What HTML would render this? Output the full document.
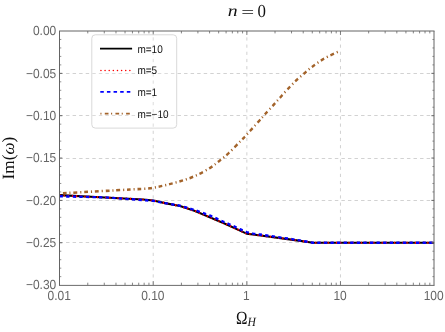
<!DOCTYPE html>
<html><head><meta charset="utf-8"><title>n = 0</title>
<style>html,body{margin:0;padding:0;background:#fff;}svg{display:block;will-change:transform;opacity:0.999;}text{font-family:"Liberation Sans",sans-serif;text-rendering:geometricPrecision;}.s{font-family:"Liberation Serif",serif;}</style></head><body>
<svg width="445" height="332" viewBox="0 0 445 332">
<rect x="0" y="0" width="445" height="332" fill="#ffffff"/>
<g stroke="#c6c6c6" stroke-width="0.8" fill="none">
<line x1="153.22" y1="284.70" x2="153.22" y2="31.00" stroke-dasharray="3.2 3.98"/>
<line x1="246.85" y1="284.70" x2="246.85" y2="31.00" stroke-dasharray="3.2 3.98"/>
<line x1="340.48" y1="284.70" x2="340.48" y2="31.00" stroke-dasharray="3.2 3.98"/>
<line x1="59.50" y1="73.50" x2="434.10" y2="73.50" stroke-dasharray="3.45 3.106"/>
<line x1="59.50" y1="115.50" x2="434.10" y2="115.50" stroke-dasharray="3.45 3.106"/>
<line x1="59.50" y1="158.50" x2="434.10" y2="158.50" stroke-dasharray="3.45 3.106"/>
<line x1="59.50" y1="200.50" x2="434.10" y2="200.50" stroke-dasharray="3.45 3.106"/>
<line x1="59.50" y1="242.50" x2="434.10" y2="242.50" stroke-dasharray="3.45 3.106"/>
</g>
<g transform="scale(1,1.1)">
<path d="M59.60,177.36 L105.00,179.50 L143.00,181.41 L153.30,182.27 L165.00,184.64 L180.00,187.36 L195.00,191.86 L225.00,203.36 L246.60,212.36 L255.00,213.41 L295.00,218.27 L313.00,220.64 L434.10,220.64" fill="none" stroke="#000000" stroke-width="1.9" stroke-linejoin="round"/>
<path d="M59.60,177.55 L105.00,179.50 L143.00,181.41 L153.30,182.27 L165.00,184.64 L180.00,187.36 L195.00,191.86 L225.00,203.36 L246.60,212.36 L255.00,213.41 L295.00,218.27 L313.00,220.64 L434.10,220.64" fill="none" stroke="#ff0000" stroke-width="1.9" stroke-dasharray="1.2 2.95" stroke-dashoffset="0.15"/>
<path d="M59.60,178.45 L105.00,179.45 L146.00,182.09 L153.30,182.64 L165.00,184.64 L179.00,186.82 L185.10,188.27 L191.50,190.09 L197.90,191.91 L204.10,194.00 L210.40,196.09 L216.40,198.55 L222.60,201.18 L228.40,203.45 L234.60,206.09 L240.60,208.55 L246.60,211.00 L253.30,212.36 L260.00,213.18 L291.90,217.36 L313.00,220.64 L434.10,220.64" fill="none" stroke="#0000ff" stroke-width="2.15" stroke-dasharray="3.3 3.28"/>
<path d="M59.60,175.82 C66.33,175.48 88.27,174.41 100.00,173.82 C111.73,173.23 121.67,172.71 130.00,172.27 C138.33,171.83 144.15,171.83 150.00,171.18 C155.85,170.53 160.08,169.42 165.10,168.36 C170.12,167.30 175.08,166.23 180.10,164.82 C185.12,163.41 190.18,161.95 195.20,159.91 C200.22,157.86 206.08,154.89 210.20,152.55 C214.32,150.20 216.78,148.08 219.90,145.82 C223.02,143.56 225.48,141.91 228.90,139.00 C232.32,136.09 237.48,131.08 240.40,128.36 C243.32,125.65 243.38,125.70 246.40,122.73 C249.42,119.76 255.45,113.64 258.50,110.55 C261.55,107.45 262.13,106.77 264.70,104.18 C267.27,101.59 271.22,97.70 273.90,95.00 C276.58,92.30 278.22,90.59 280.80,88.00 C283.38,85.41 286.72,82.03 289.40,79.45 C292.08,76.88 294.33,74.74 296.90,72.55 C299.47,70.35 302.13,68.33 304.80,66.27 C307.47,64.21 309.70,62.33 312.90,60.18 C316.10,58.03 319.75,55.58 324.00,53.36 C328.25,51.15 336.00,47.98 338.40,46.91" fill="none" stroke="#a3632a" stroke-width="2.3" stroke-dasharray="1.1 2.87 3.75 2.94" stroke-dashoffset="0.65"/>
</g>
<g stroke="#646464" stroke-width="1" fill="none">
<line x1="59.0" y1="31.0" x2="434.5" y2="31.0"/>
<line x1="59.0" y1="285.4" x2="434.5" y2="285.4" stroke-width="0.95"/>
<line x1="59.5" y1="31.0" x2="59.5" y2="285.4"/>
<line x1="434.0" y1="31.0" x2="434.0" y2="285.4"/>
</g>
<g stroke="#646464" stroke-width="0.8" fill="none">
<line x1="87.78" y1="285.10" x2="87.78" y2="282.70"/>
<line x1="87.78" y1="31.00" x2="87.78" y2="33.40"/>
<line x1="104.27" y1="285.10" x2="104.27" y2="282.70"/>
<line x1="104.27" y1="31.00" x2="104.27" y2="33.40"/>
<line x1="115.97" y1="285.10" x2="115.97" y2="282.70"/>
<line x1="115.97" y1="31.00" x2="115.97" y2="33.40"/>
<line x1="125.04" y1="285.10" x2="125.04" y2="282.70"/>
<line x1="125.04" y1="31.00" x2="125.04" y2="33.40"/>
<line x1="132.45" y1="285.10" x2="132.45" y2="282.70"/>
<line x1="132.45" y1="31.00" x2="132.45" y2="33.40"/>
<line x1="138.72" y1="285.10" x2="138.72" y2="282.70"/>
<line x1="138.72" y1="31.00" x2="138.72" y2="33.40"/>
<line x1="144.15" y1="285.10" x2="144.15" y2="282.70"/>
<line x1="144.15" y1="31.00" x2="144.15" y2="33.40"/>
<line x1="148.94" y1="285.10" x2="148.94" y2="282.70"/>
<line x1="148.94" y1="31.00" x2="148.94" y2="33.40"/>
<line x1="153.22" y1="285.10" x2="153.22" y2="281.10"/>
<line x1="153.22" y1="31.00" x2="153.22" y2="35.00"/>
<line x1="181.41" y1="285.10" x2="181.41" y2="282.70"/>
<line x1="181.41" y1="31.00" x2="181.41" y2="33.40"/>
<line x1="197.90" y1="285.10" x2="197.90" y2="282.70"/>
<line x1="197.90" y1="31.00" x2="197.90" y2="33.40"/>
<line x1="209.59" y1="285.10" x2="209.59" y2="282.70"/>
<line x1="209.59" y1="31.00" x2="209.59" y2="33.40"/>
<line x1="218.67" y1="285.10" x2="218.67" y2="282.70"/>
<line x1="218.67" y1="31.00" x2="218.67" y2="33.40"/>
<line x1="226.08" y1="285.10" x2="226.08" y2="282.70"/>
<line x1="226.08" y1="31.00" x2="226.08" y2="33.40"/>
<line x1="232.35" y1="285.10" x2="232.35" y2="282.70"/>
<line x1="232.35" y1="31.00" x2="232.35" y2="33.40"/>
<line x1="237.78" y1="285.10" x2="237.78" y2="282.70"/>
<line x1="237.78" y1="31.00" x2="237.78" y2="33.40"/>
<line x1="242.57" y1="285.10" x2="242.57" y2="282.70"/>
<line x1="242.57" y1="31.00" x2="242.57" y2="33.40"/>
<line x1="246.85" y1="285.10" x2="246.85" y2="281.10"/>
<line x1="246.85" y1="31.00" x2="246.85" y2="35.00"/>
<line x1="275.03" y1="285.10" x2="275.03" y2="282.70"/>
<line x1="275.03" y1="31.00" x2="275.03" y2="33.40"/>
<line x1="291.52" y1="285.10" x2="291.52" y2="282.70"/>
<line x1="291.52" y1="31.00" x2="291.52" y2="33.40"/>
<line x1="303.22" y1="285.10" x2="303.22" y2="282.70"/>
<line x1="303.22" y1="31.00" x2="303.22" y2="33.40"/>
<line x1="312.29" y1="285.10" x2="312.29" y2="282.70"/>
<line x1="312.29" y1="31.00" x2="312.29" y2="33.40"/>
<line x1="319.70" y1="285.10" x2="319.70" y2="282.70"/>
<line x1="319.70" y1="31.00" x2="319.70" y2="33.40"/>
<line x1="325.97" y1="285.10" x2="325.97" y2="282.70"/>
<line x1="325.97" y1="31.00" x2="325.97" y2="33.40"/>
<line x1="331.40" y1="285.10" x2="331.40" y2="282.70"/>
<line x1="331.40" y1="31.00" x2="331.40" y2="33.40"/>
<line x1="336.19" y1="285.10" x2="336.19" y2="282.70"/>
<line x1="336.19" y1="31.00" x2="336.19" y2="33.40"/>
<line x1="340.48" y1="285.10" x2="340.48" y2="281.10"/>
<line x1="340.48" y1="31.00" x2="340.48" y2="35.00"/>
<line x1="368.66" y1="285.10" x2="368.66" y2="282.70"/>
<line x1="368.66" y1="31.00" x2="368.66" y2="33.40"/>
<line x1="385.15" y1="285.10" x2="385.15" y2="282.70"/>
<line x1="385.15" y1="31.00" x2="385.15" y2="33.40"/>
<line x1="396.84" y1="285.10" x2="396.84" y2="282.70"/>
<line x1="396.84" y1="31.00" x2="396.84" y2="33.40"/>
<line x1="405.92" y1="285.10" x2="405.92" y2="282.70"/>
<line x1="405.92" y1="31.00" x2="405.92" y2="33.40"/>
<line x1="413.33" y1="285.10" x2="413.33" y2="282.70"/>
<line x1="413.33" y1="31.00" x2="413.33" y2="33.40"/>
<line x1="419.60" y1="285.10" x2="419.60" y2="282.70"/>
<line x1="419.60" y1="31.00" x2="419.60" y2="33.40"/>
<line x1="425.03" y1="285.10" x2="425.03" y2="282.70"/>
<line x1="425.03" y1="31.00" x2="425.03" y2="33.40"/>
<line x1="429.82" y1="285.10" x2="429.82" y2="282.70"/>
<line x1="429.82" y1="31.00" x2="429.82" y2="33.40"/>
<line x1="59.60" y1="39.47" x2="61.30" y2="39.47" stroke-width="0.7"/>
<line x1="434.10" y1="39.47" x2="432.40" y2="39.47" stroke-width="0.7"/>
<line x1="59.60" y1="47.94" x2="61.30" y2="47.94" stroke-width="0.7"/>
<line x1="434.10" y1="47.94" x2="432.40" y2="47.94" stroke-width="0.7"/>
<line x1="59.60" y1="56.41" x2="61.30" y2="56.41" stroke-width="0.7"/>
<line x1="434.10" y1="56.41" x2="432.40" y2="56.41" stroke-width="0.7"/>
<line x1="59.60" y1="64.88" x2="61.30" y2="64.88" stroke-width="0.7"/>
<line x1="434.10" y1="64.88" x2="432.40" y2="64.88" stroke-width="0.7"/>
<line x1="59.60" y1="73.35" x2="62.30" y2="73.35" stroke-width="1.0"/>
<line x1="434.10" y1="73.35" x2="431.40" y2="73.35" stroke-width="1.0"/>
<line x1="59.60" y1="81.82" x2="61.30" y2="81.82" stroke-width="0.7"/>
<line x1="434.10" y1="81.82" x2="432.40" y2="81.82" stroke-width="0.7"/>
<line x1="59.60" y1="90.29" x2="61.30" y2="90.29" stroke-width="0.7"/>
<line x1="434.10" y1="90.29" x2="432.40" y2="90.29" stroke-width="0.7"/>
<line x1="59.60" y1="98.76" x2="61.30" y2="98.76" stroke-width="0.7"/>
<line x1="434.10" y1="98.76" x2="432.40" y2="98.76" stroke-width="0.7"/>
<line x1="59.60" y1="107.23" x2="61.30" y2="107.23" stroke-width="0.7"/>
<line x1="434.10" y1="107.23" x2="432.40" y2="107.23" stroke-width="0.7"/>
<line x1="59.60" y1="115.70" x2="62.30" y2="115.70" stroke-width="1.0"/>
<line x1="434.10" y1="115.70" x2="431.40" y2="115.70" stroke-width="1.0"/>
<line x1="59.60" y1="124.17" x2="61.30" y2="124.17" stroke-width="0.7"/>
<line x1="434.10" y1="124.17" x2="432.40" y2="124.17" stroke-width="0.7"/>
<line x1="59.60" y1="132.64" x2="61.30" y2="132.64" stroke-width="0.7"/>
<line x1="434.10" y1="132.64" x2="432.40" y2="132.64" stroke-width="0.7"/>
<line x1="59.60" y1="141.11" x2="61.30" y2="141.11" stroke-width="0.7"/>
<line x1="434.10" y1="141.11" x2="432.40" y2="141.11" stroke-width="0.7"/>
<line x1="59.60" y1="149.58" x2="61.30" y2="149.58" stroke-width="0.7"/>
<line x1="434.10" y1="149.58" x2="432.40" y2="149.58" stroke-width="0.7"/>
<line x1="59.60" y1="158.05" x2="62.30" y2="158.05" stroke-width="1.0"/>
<line x1="434.10" y1="158.05" x2="431.40" y2="158.05" stroke-width="1.0"/>
<line x1="59.60" y1="166.52" x2="61.30" y2="166.52" stroke-width="0.7"/>
<line x1="434.10" y1="166.52" x2="432.40" y2="166.52" stroke-width="0.7"/>
<line x1="59.60" y1="174.99" x2="61.30" y2="174.99" stroke-width="0.7"/>
<line x1="434.10" y1="174.99" x2="432.40" y2="174.99" stroke-width="0.7"/>
<line x1="59.60" y1="183.46" x2="61.30" y2="183.46" stroke-width="0.7"/>
<line x1="434.10" y1="183.46" x2="432.40" y2="183.46" stroke-width="0.7"/>
<line x1="59.60" y1="191.93" x2="61.30" y2="191.93" stroke-width="0.7"/>
<line x1="434.10" y1="191.93" x2="432.40" y2="191.93" stroke-width="0.7"/>
<line x1="59.60" y1="200.40" x2="62.30" y2="200.40" stroke-width="1.0"/>
<line x1="434.10" y1="200.40" x2="431.40" y2="200.40" stroke-width="1.0"/>
<line x1="59.60" y1="208.87" x2="61.30" y2="208.87" stroke-width="0.7"/>
<line x1="434.10" y1="208.87" x2="432.40" y2="208.87" stroke-width="0.7"/>
<line x1="59.60" y1="217.34" x2="61.30" y2="217.34" stroke-width="0.7"/>
<line x1="434.10" y1="217.34" x2="432.40" y2="217.34" stroke-width="0.7"/>
<line x1="59.60" y1="225.81" x2="61.30" y2="225.81" stroke-width="0.7"/>
<line x1="434.10" y1="225.81" x2="432.40" y2="225.81" stroke-width="0.7"/>
<line x1="59.60" y1="234.28" x2="61.30" y2="234.28" stroke-width="0.7"/>
<line x1="434.10" y1="234.28" x2="432.40" y2="234.28" stroke-width="0.7"/>
<line x1="59.60" y1="242.75" x2="62.30" y2="242.75" stroke-width="1.0"/>
<line x1="434.10" y1="242.75" x2="431.40" y2="242.75" stroke-width="1.0"/>
<line x1="59.60" y1="251.22" x2="61.30" y2="251.22" stroke-width="0.7"/>
<line x1="434.10" y1="251.22" x2="432.40" y2="251.22" stroke-width="0.7"/>
<line x1="59.60" y1="259.69" x2="61.30" y2="259.69" stroke-width="0.7"/>
<line x1="434.10" y1="259.69" x2="432.40" y2="259.69" stroke-width="0.7"/>
<line x1="59.60" y1="268.16" x2="61.30" y2="268.16" stroke-width="0.7"/>
<line x1="434.10" y1="268.16" x2="432.40" y2="268.16" stroke-width="0.7"/>
<line x1="59.60" y1="276.63" x2="61.30" y2="276.63" stroke-width="0.7"/>
<line x1="434.10" y1="276.63" x2="432.40" y2="276.63" stroke-width="0.7"/>
</g>
<g fill="#666666" font-size="12px">
<text transform="translate(56.3,35.30) scale(1,1.1)" text-anchor="end">0.00</text>
<text transform="translate(56.3,77.65) scale(1,1.1)" text-anchor="end">−0.05</text>
<text transform="translate(56.3,120.00) scale(1,1.1)" text-anchor="end">−0.10</text>
<text transform="translate(56.3,162.35) scale(1,1.1)" text-anchor="end">−0.15</text>
<text transform="translate(56.3,204.70) scale(1,1.1)" text-anchor="end">−0.20</text>
<text transform="translate(56.3,247.05) scale(1,1.1)" text-anchor="end">−0.25</text>
<text transform="translate(56.3,289.40) scale(1,1.1)" text-anchor="end">−0.30</text>
<text transform="translate(59.20,299.5) scale(1,1.1)" text-anchor="middle">0.01</text>
<text transform="translate(152.82,299.5) scale(1,1.1)" text-anchor="middle">0.10</text>
<text transform="translate(246.45,299.5) scale(1,1.1)" text-anchor="middle">1</text>
<text transform="translate(340.08,299.5) scale(1,1.1)" text-anchor="middle">10</text>
<text transform="translate(433.70,299.5) scale(1,1.1)" text-anchor="middle">100</text>
</g>
<rect x="91.8" y="34.8" width="84.9" height="93.3" rx="3.5" ry="3.5" fill="#ffffff" fill-opacity="0.22" stroke="#d9d9d9" stroke-width="1"/>
<line x1="100.0" y1="48.7" x2="132.1" y2="48.7" stroke="#000" stroke-width="1.8"/>
<line x1="100.95" y1="70.4" x2="131" y2="70.4" stroke="#ff0000" stroke-width="1.55" stroke-linecap="round" stroke-dasharray="0.01 4.12"/>
<line x1="100.3" y1="91.9" x2="132" y2="91.9" stroke="#0000ff" stroke-width="1.8" stroke-dasharray="3.5 3.13"/>
<line x1="100.4" y1="113.6" x2="132" y2="113.6" stroke="#a3632a" stroke-width="1.7" stroke-dasharray="1.1 3.3 3.7 2.55"/>
<g fill="#111111" font-size="10px">
<text transform="translate(137.4,52.65) scale(1,1.1)">m=10</text>
<text transform="translate(137.4,74.15) scale(1,1.1)">m=5</text>
<text transform="translate(137.4,95.85) scale(1,1.1)">m=1</text>
<text transform="translate(137.4,117.55) scale(1,1.1)">m=−10</text>
</g>
<g class="s" fill="#111111">
<text class="s" transform="translate(227.7,16.2) scale(1.19,0.97)" font-size="16.6px" font-style="italic">n</text>
<text class="s" transform="translate(241.2,16.55) scale(1.38,0.92)" font-size="16.6px">=</text>
<text class="s" transform="translate(257.6,16.5) scale(1.08,1.17)" font-size="15.6px">0</text>
</g>
<text class="s" transform="translate(236.0,323.6) scale(1.0,1.21)" font-size="15.4px" fill="#111">Ω</text>
<text class="s" transform="translate(247.4,326.4) scale(1,1.1)" font-size="11.6px" font-style="italic" fill="#111">H</text>
<text class="s" transform="translate(14.2,179.4) rotate(-90)" font-size="17.2px" fill="#111">Im(<tspan font-style="italic">ω</tspan>)</text>
</svg></body></html>
